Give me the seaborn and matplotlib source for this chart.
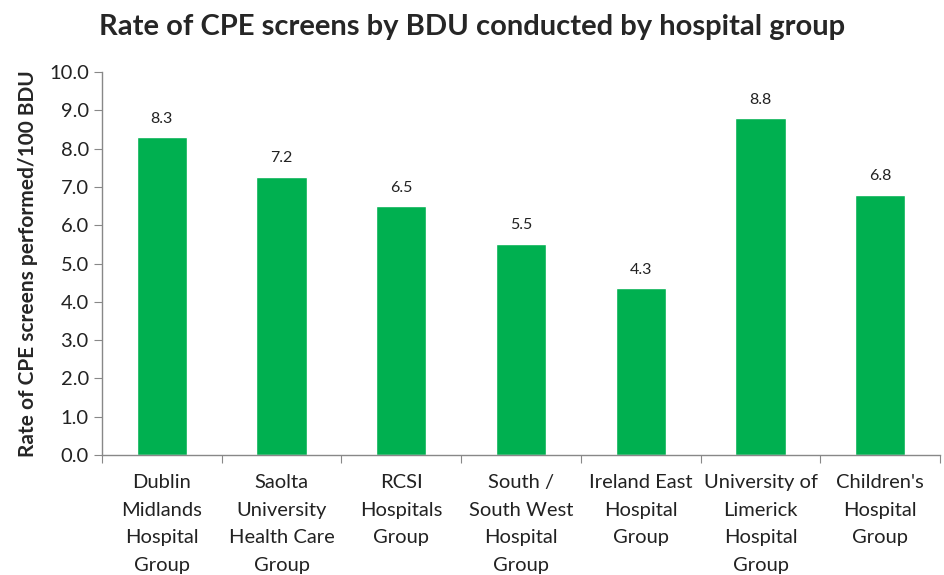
import matplotlib
matplotlib.use("Agg")
import matplotlib.pyplot as plt
import seaborn as sns
import pandas as pd

# data
groups = [
    "Dublin\nMidlands\nHospital\nGroup",
    "Saolta\nUniversity\nHealth Care\nGroup",
    "RCSI\nHospitals\nGroup",
    "South /\nSouth West\nHospital\nGroup",
    "Ireland East\nHospital\nGroup",
    "University of\nLimerick\nHospital\nGroup",
    "Children's\nHospital\nGroup",
]
rates = [8.3, 7.27, 6.5, 5.52, 4.35, 8.8, 6.79]
rate_labels = ["8.3", "7.2", "6.5", "5.5", "4.3", "8.8", "6.8"]
y_ticks = [0, 1, 2, 3, 4, 5, 6, 7, 8, 9, 10]

df = pd.DataFrame({"group": groups, "rate": rates})

sns.set_style("white")
plt.rcParams["font.family"] = ["Lato", "DejaVu Sans"]

fig = plt.figure(figsize=(9.44, 5.75), dpi=100)
ax = fig.add_axes([0.108, 0.2087, 0.888, 0.666])

sns.barplot(data=df, x="group", y="rate", color="#00B050", saturation=1,
            width=0.42, ax=ax)

for i, (v, lab) in enumerate(zip(rates, rate_labels)):
    ax.text(i, v + 0.3, lab, ha="center", va="bottom", fontsize=11.5, color="#222222")

ax.set_ylim(0, 10)
ax.set_xlim(-0.5, len(groups) - 0.5)
ax.set_yticks(y_ticks)
ax.set_yticklabels([f"{t:.1f}" for t in y_ticks], fontsize=14.5)
ax.set_xticks([i - 0.5 for i in range(len(groups) + 1)], minor=False)
ax.set_xticklabels([])
for i, g in enumerate(groups):
    ax.text(i, -0.5, g, ha="center", va="top", fontsize=14.5,
            linespacing=1.75, color="#222222", clip_on=False)

ax.set_xlabel("")
ax.set_ylabel("Rate of CPE screens performed/100 BDU", fontsize=15,
              fontweight="bold", labelpad=8)

for s in ["top", "right"]:
    ax.spines[s].set_visible(False)
for s in ["left", "bottom"]:
    ax.spines[s].set_color("#888888")
    ax.spines[s].set_linewidth(1)
ax.tick_params(axis="y", left=True, length=6, color="#888888", colors="#222222")
ax.tick_params(axis="x", bottom=True, length=6, color="#888888")

fig.text(0.5, 0.953, "Rate of CPE screens by BDU conducted by hospital group",
         ha="center", va="center", fontsize=21, fontweight="bold")

fig.savefig("out.png", dpi=100)
